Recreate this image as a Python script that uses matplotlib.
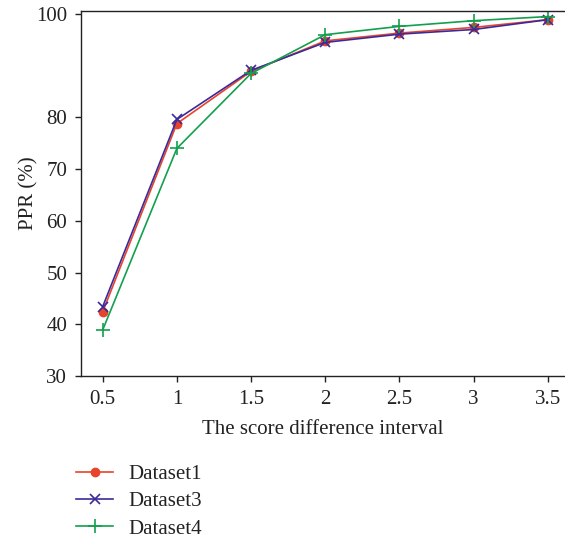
import numpy as np
import matplotlib.pyplot as plt

plt.rcParams['font.family'] = ['Liberation Serif', 'DejaVu Serif']
plt.rcParams['font.size'] = 15

# values
x = [0.5, 1, 1.5, 2, 2.5, 3, 3.5]
dataset1 = [42.4, 78.8, 88.9, 94.8, 96.3, 97.4, 98.9]
dataset3 = [43.4, 79.6, 89.1, 94.5, 96.1, 97.0, 98.9]
dataset4 = [38.9, 74.0, 88.5, 96.0, 97.6, 98.7, 99.5]
yticks = [30, 40, 50, 60, 70, 80, 100]
xticks = [0.5, 1, 1.5, 2, 2.5, 3, 3.5]
xticklabels = ['0.5', '1', '1.5', '2', '2.5', '3', '3.5']

fig = plt.figure(figsize=(5.65, 5.42), dpi=100)
ax = fig.add_axes([0.1434, 0.3063, 0.855, 0.6743])

ax.plot(x, dataset1, color='#e8442a', lw=1.2, marker='o', ms=6, label='Dataset1')
ax.plot(x, dataset3, color='#3b2a9c', lw=1.2, marker='x', ms=7, mew=1.2, label='Dataset3')
ax.plot(x, dataset4, color='#12a04e', lw=1.2, marker='+', ms=10, mew=1.2, label='Dataset4')

ax.set_xlim(0.354, 3.61)
ax.set_ylim(30, 100.67)
ax.set_xticks(xticks)
ax.set_xticklabels(xticklabels)
ax.set_yticks(yticks)
ax.tick_params(direction='out', length=4, width=1, pad=6, color='#222222', labelcolor='#222222')
ax.spines['right'].set_visible(False)
for s in ['left', 'bottom', 'top']:
    ax.spines[s].set_linewidth(1.0)
    ax.spines[s].set_color('#222222')

ax.set_xlabel('The score difference interval', color='#222222', labelpad=8)
ax.set_ylabel('PPR (%)', color='#222222', labelpad=-2)

fig.legend(loc='upper left', bbox_to_anchor=(0.135, 0.143), frameon=False,
           handlelength=1.75, handletextpad=0.75, labelspacing=0.37,
           borderaxespad=0, borderpad=0, labelcolor='#222222')

fig.savefig('out.png', dpi=100)
